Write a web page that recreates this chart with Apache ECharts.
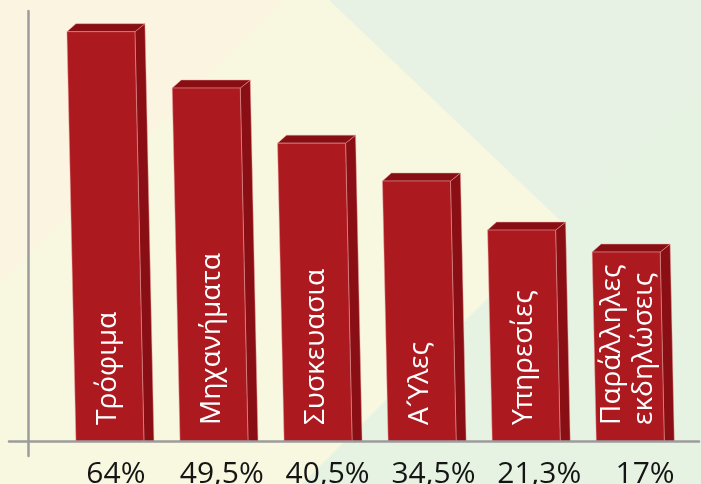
<!DOCTYPE html>
<html>
<head>
<meta charset="utf-8">
<script src="https://cdn.jsdelivr.net/npm/echarts@6/dist/echarts.min.js"></script>
<style>
html,body{margin:0;padding:0;background:#F8F7E0;}
#chart{width:701px;height:484px;}
</style>
</head>
<body>
<div id="chart"></div>
<script>
// Category names (written inside the bars)
const categories = ['Τρόφιμα', 'Μηχανήματα', 'Συσκευασια', 'Α\u00B4Υλες', 'Υπηρεσίες', 'Παράλληλες\nεκδηλώσεις'];
// Percentages printed under the bars
const percentLabels = ['64%', '49,5%', '40,5%', '34,5%', '21,3%', '17%'];
// Drawn bar heights (axis units, 100 = top of the axis)
const barHeights = [95.2, 82.1, 69.3, 60.5, 49.1, 44.0];

const chart = echarts.init(document.getElementById('chart'), null, {renderer: 'canvas'});

const data = barHeights.map((h, i) => [i + 1, h, categories[i]]);

function renderItem(params, api) {
  const base = api.coord([api.value(0), 0]);
  const top = api.coord([api.value(0), api.value(1)]);
  const cx = base[0], y0 = base[1], yt = top[1];
  const h = y0 - yt;
  const hw = 34, lean = 0.022 * h, dx = 10, dy = 8;
  const fl = cx - hw, fr = cx + hw;
  const edge = 'rgba(236,160,160,0.6)';
  return {
    type: 'group',
    children: [
      {type: 'polygon', shape: {points: [[fr, y0], [fr + dx, y0], [fr + dx - lean, yt - dy], [fr - lean, yt]]},
       style: {fill: '#8A0F14', stroke: edge, lineWidth: 0.8}},
      {type: 'polygon', shape: {points: [[fl - lean, yt], [fr - lean, yt], [fr - lean + dx, yt - dy], [fl - lean + dx - 1, yt - dy]]},
       style: {fill: '#870E12', stroke: edge, lineWidth: 0.8}},
      {type: 'polygon', shape: {points: [[fl, y0], [fr, y0], [fr - lean, yt], [fl - lean, yt]]},
       style: {fill: '#AC1A20', stroke: edge, lineWidth: 0.8}},
      {type: 'text', x: cx - 2, y: y0 - 16.5, rotation: Math.PI / 2,
       style: {text: api.value(2), fill: '#ffffff', fontSize: 28, fontFamily: '"Open Sans", sans-serif',
               align: 'left', verticalAlign: 'middle', lineHeight: 32}}
    ]
  };
}

chart.setOption({
  backgroundColor: '#F8F7E0',
  animation: false,
  graphic: [
    {type: 'polygon', z: -100, silent: true, shape: {points: [[0, 0], [283, 0], [0, 283]]}, style: {fill: '#FBF4E1'}},
    {type: 'polygon', z: -100, silent: true, shape: {points: [[329, 0], [701, 0], [701, 92], [563, 223]]}, style: {fill: '#E7F2E4'}},
    {type: 'polygon', z: -100, silent: true, shape: {points: [[563, 223], [701, 92], [701, 484], [302, 484]]}, style: {fill: '#E6F3E2'}}
  ],
  grid: [
    {left: 9, right: 2, top: 11, bottom: 28, outerBoundsMode: 'none'},
    {left: 63, right: 3, top: 11, bottom: 28, outerBoundsMode: 'none'}
  ],
  xAxis: [
    {type: 'value', gridIndex: 0, min: 0.03, max: 6.66, z: 5,
     axisLine: {show: true, onZero: true, lineStyle: {color: '#9C9C9C', width: 2.5}},
     axisTick: {show: false}, axisLabel: {show: false}, splitLine: {show: false}},
    {type: 'category', gridIndex: 1, data: percentLabels,
     axisLine: {show: false}, axisTick: {show: false}, splitLine: {show: false},
     axisLabel: {color: '#151515', fontSize: 30, fontFamily: '"Open Sans", sans-serif', margin: 3,
                 interval: 0, hideOverlap: false}}
  ],
  yAxis: [
    {type: 'value', gridIndex: 0, min: -3.37, max: 100, offset: -19.5, z: 5,
     axisLine: {show: true, onZero: false, lineStyle: {color: '#9C9C9C', width: 2.5}},
     axisTick: {show: false}, axisLabel: {show: false}, splitLine: {show: false}},
    {type: 'value', gridIndex: 1, show: false}
  ],
  series: [{
    type: 'custom',
    xAxisIndex: 0, yAxisIndex: 0,
    renderItem: renderItem,
    data: data,
    z: 2,
    clip: false
  }]
});
</script>
</body>
</html>
